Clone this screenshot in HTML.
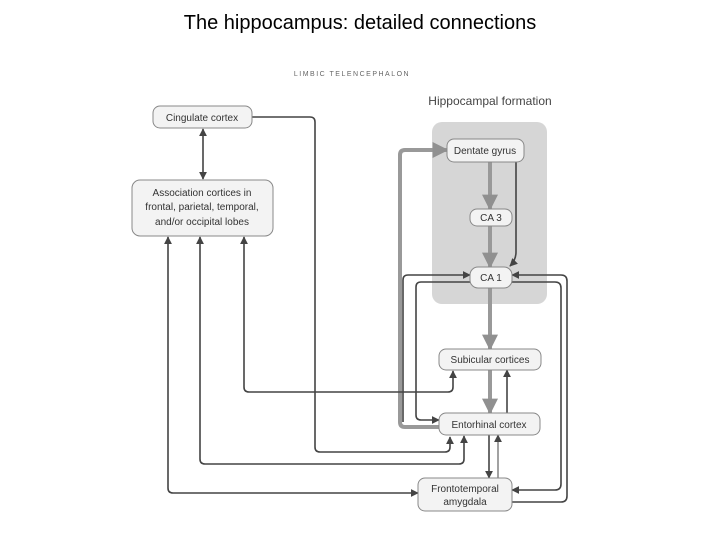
<!DOCTYPE html>
<html><head><meta charset="utf-8"><style>
html,body{margin:0;padding:0;background:#fff;}
svg{display:block;}
text{font-family:"Liberation Sans",sans-serif;}
</style></head><body>
<svg width="720" height="540" viewBox="0 0 720 540" xmlns="http://www.w3.org/2000/svg">
<defs>
<marker id="d" viewBox="0 0 10 10" refX="9" refY="5" markerWidth="8" markerHeight="8" markerUnits="userSpaceOnUse" orient="auto-start-reverse"><path d="M0,0L10,5L0,10z" fill="#444"/></marker>
<marker id="g" viewBox="0 0 10 10" refX="9" refY="5" markerWidth="18" markerHeight="16" markerUnits="userSpaceOnUse" orient="auto"><path d="M0,0L10,5L0,10z" fill="#909090"/></marker>
</defs>
<text x="360" y="29" font-size="20" text-anchor="middle" fill="#000">The hippocampus: detailed connections</text>
<text x="352" y="76" font-size="7" text-anchor="middle" fill="#666" letter-spacing="1.5">LIMBIC TELENCEPHALON</text>
<text x="490" y="105" font-size="12" text-anchor="middle" fill="#444">Hippocampal formation</text>
<rect x="432" y="122" width="115" height="182" rx="10" fill="#d6d6d6"/>

<g fill="none" stroke-linejoin="round">
<path d="M439,427 H405 Q400,427 400,422 V155 Q400,150 405,150 H447" stroke="#999" stroke-width="4" marker-end="url(#g)"/>
<path d="M490,162 V209" stroke="#999" stroke-width="4" marker-end="url(#g)"/>
<path d="M490,226 V267" stroke="#999" stroke-width="4" marker-end="url(#g)"/>
<path d="M490,288 V349" stroke="#999" stroke-width="4" marker-end="url(#g)"/>
<path d="M490,370 V413" stroke="#999" stroke-width="4" marker-end="url(#g)"/>

<g stroke="#444" stroke-width="1.6">
<path d="M252,117 H310 Q315,117 315,122 V447 Q315,452 320,452 H445 Q450,452 450,447 V437" marker-end="url(#d)"/>
<path d="M203,129 V179" marker-start="url(#d)" marker-end="url(#d)"/>
<path d="M244,237 V387 Q244,392 249,392 H448 Q453,392 453,387 V371" marker-start="url(#d)" marker-end="url(#d)"/>
<path d="M200,237 V459 Q200,464 205,464 H459 Q464,464 464,459 V436" marker-start="url(#d)" marker-end="url(#d)"/>
<path d="M168,237 V488 Q168,493 173,493 H418" marker-start="url(#d)" marker-end="url(#d)"/>
<path d="M403,422 V280 Q403,275 408,275 H470" marker-end="url(#d)"/>
<path d="M470,282 H421 Q416,282 416,287 V415 Q416,420 421,420 H439" marker-end="url(#d)"/>
<path d="M512,282 H555 Q561,282 561,288 V484 Q561,490 555,490 H512" marker-end="url(#d)"/>
<path d="M512,502 H561 Q567,502 567,496 V281 Q567,275 561,275 H512" marker-end="url(#d)"/>
<path d="M516,162 V252 Q516,260 510,266" marker-end="url(#d)"/>
<path d="M507,413 V370" marker-end="url(#d)"/>
<path d="M489,435 V478" marker-end="url(#d)"/>
<path d="M498,478 V435" stroke-width="1" marker-end="url(#d)"/>
</g>
</g>

<g fill="#f3f3f3" stroke="#888" stroke-width="1">
<rect x="153" y="106" width="99" height="22" rx="7"/>
<rect x="132" y="180" width="141" height="56" rx="8"/>
<rect x="447" y="139" width="77" height="23" rx="7"/>
<rect x="470" y="209" width="42" height="17" rx="7"/>
<rect x="470" y="267" width="42" height="21" rx="8"/>
<rect x="439" y="349" width="102" height="21" rx="7"/>
<rect x="439" y="413" width="101" height="22" rx="7"/>
<rect x="418" y="478" width="94" height="33" rx="7"/>
</g>
<g font-size="10" fill="#333" text-anchor="middle">
<text x="202" y="121">Cingulate cortex</text>
<text x="202" y="196">Association cortices in</text>
<text x="202" y="210">frontal, parietal, temporal,</text>
<text x="202" y="225">and/or occipital lobes</text>
<text x="485" y="154">Dentate gyrus</text>
<text x="491" y="221">CA 3</text>
<text x="491" y="281">CA 1</text>
<text x="490" y="363">Subicular cortices</text>
<text x="489" y="428">Entorhinal cortex</text>
<text x="465" y="492">Frontotemporal</text>
<text x="465" y="505">amygdala</text>
</g>
</svg>
</body></html>
